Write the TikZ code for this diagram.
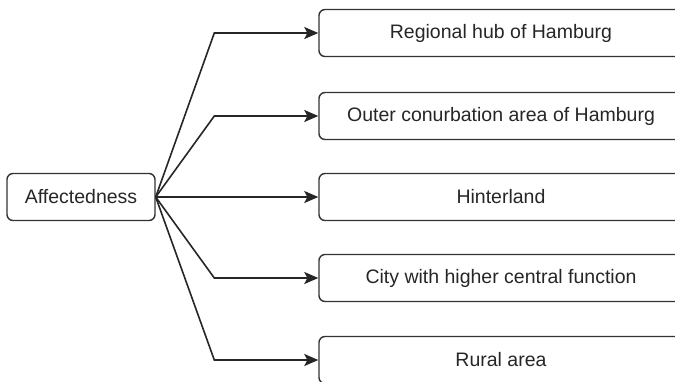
\documentclass[tikz,border=0pt]{standalone}
\usepackage{fontspec}
\setmainfont{Liberation Sans}
\usetikzlibrary{arrows.meta}

\begin{document}
\begin{tikzpicture}[x=1pt, y=-1pt, line width=1.6pt,
  box/.style={draw=black!80, line width=1.4pt, rounded corners=6pt, minimum height=47pt,
    inner sep=0pt, text=black!85, font=\fontsize{19.5}{22}\selectfont},
  link/.style={black!85, -{Stealth[length=14pt, width=12pt, inset=3pt]}},
]
  \clip (0,0) rectangle (675,381);
  \node[box, minimum width=148pt] (aff) at (81,197) {Affectedness};
  % right column
  \foreach \name/\y/\txt in {hub/33/Regional hub of Hamburg,
      outer/116/Outer conurbation area of Hamburg,
      hinter/197/Hinterland,
      city/278/City with higher central function,
      rural/360/Rural area}
    \node[box, minimum width=364pt] (\name) at (501,\y) {\txt};
  % connectors with a bend at x = 215
  \foreach \name in {hub,outer,city,rural}
    \draw[link] (aff.east) -- ([xshift=-104pt]\name.west) -- (\name.west);
  \draw[link] (aff.east) -- (hinter.west);
\end{tikzpicture}
\end{document}
